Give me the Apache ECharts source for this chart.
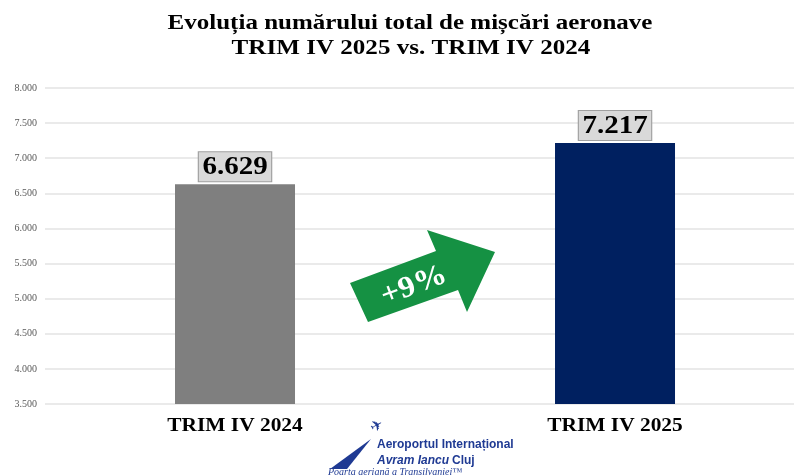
<!DOCTYPE html>
<html>
<head>
<meta charset="utf-8">
<script src="https://cdn.jsdelivr.net/npm/echarts@6/dist/echarts.min.js"></script>
<style>
  html, body { margin: 0; padding: 0; background: #ffffff; }
  #chart { width: 794px; height: 475px; }
</style>
</head>
<body>
<div id="chart"></div>
<script>
const categories = ['TRIM IV 2024', 'TRIM IV 2025'];
const movements = [6629, 7217];
const barColors = ['#7f7f7f', '#002060'];
const growthLabel = '+9%';
const yMin = 3500, yMax = 8000, yStep = 500;

const fmt = v => String(v).replace(/\B(?=(\d{3})+(?!\d))/g, '.');
const serif = '"Liberation Serif", "DejaVu Serif", serif';
const sans = '"Liberation Sans", Arial, sans-serif';
const logoBlue = '#1f3a93';

// points: x index + value
const points = movements.map((v, i) => [i, v]);

const chart = echarts.init(document.getElementById('chart'));
chart.setOption({
  backgroundColor: '#ffffff',
  animation: false,
  grid: { left: 45, top: 88, right: 0, bottom: 71 },
  xAxis: {
    type: 'value',
    min: -0.5,
    max: 1.471,
    show: false
  },
  yAxis: {
    type: 'value',
    min: yMin,
    max: yMax,
    interval: yStep,
    axisLine: { show: false },
    axisTick: { show: false },
    splitLine: { lineStyle: { color: '#e3e3e3', width: 1.5 } },
    axisLabel: { fontFamily: serif, fontSize: 10, color: '#595959', margin: 8, formatter: fmt }
  },
  series: [
    {
      type: 'bar',
      barWidth: 120,
      data: points.map((p, i) => ({ value: p, itemStyle: { color: barColors[i] } }))
    },
    {
      // value boxes above bars and category names under them
      type: 'custom',
      clip: false,
      z: 5,
      data: points,
      renderItem: (params, api) => {
        const idx = api.value(0);
        const val = api.value(1);
        const top = api.coord([idx, val]);
        const base = api.coord([idx, yMin]);
        return {
          type: 'group',
          children: [
            {
              type: 'text',
              x: top[0], y: top[1] - 3,
              scaleX: 1.16,
              style: {
                text: fmt(val),
                font: 'bold 25px ' + serif,
                fill: '#000',
                align: 'center',
                verticalAlign: 'bottom',
                lineHeight: 25,
                backgroundColor: '#d9d9d9',
                borderColor: '#a0a0a0',
                borderWidth: 1,
                padding: [3, 3, 1, 3]
              }
            },
            {
              type: 'text',
              x: base[0], y: base[1] + 13,
              scaleX: 1.125,
              style: {
                text: categories[idx],
                font: 'bold 19px ' + serif,
                fill: '#000',
                align: 'center',
                verticalAlign: 'top'
              }
            }
          ]
        };
      }
    }
  ],
  graphic: [
    {
      type: 'text', x: 410, y: 13, scaleX: 1.19, z: 100,
      style: { text: 'Evoluția numărului total de mișcări aeronave', font: 'bold 21px ' + serif, fill: '#000', align: 'center', verticalAlign: 'top' }
    },
    {
      type: 'text', x: 411, y: 37, scaleX: 1.14, z: 100,
      style: { text: 'TRIM IV 2025 vs. TRIM IV 2024', font: 'bold 22px ' + serif, fill: '#000', align: 'center', verticalAlign: 'top' }
    },
    {
      type: 'polygon', z: 100,
      shape: { points: [[350, 283], [436, 251], [427, 230], [495, 252], [467, 312], [458, 290], [368, 322]] },
      style: { fill: '#159143' }
    },
    {
      type: 'text', x: 414, y: 286, z: 101,
      rotation: 20.5 * Math.PI / 180,
      scaleX: 1.1,
      style: { text: growthLabel, fill: '#ffffff', font: 'bold 30px ' + serif, align: 'center', verticalAlign: 'middle' }
    },
    {
      type: 'polygon', z: 100,
      shape: { points: [[330, 469], [371, 439], [347, 469]] },
      style: { fill: logoBlue }
    },
    {
      type: 'text', x: 368, y: 423, z: 100,
      rotation: 0.5,
      style: { text: '✈', fill: logoBlue, font: '15px "DejaVu Sans"' }
    },
    {
      type: 'text', x: 377, y: 439, z: 100,
      style: { text: 'Aeroportul Internațional', fill: logoBlue, font: 'bold 12px ' + sans, verticalAlign: 'top' }
    },
    {
      type: 'text', x: 377, y: 455, z: 100,
      style: { text: 'Avram Iancu', fill: logoBlue, font: 'italic bold 12px ' + sans, verticalAlign: 'top' }
    },
    {
      type: 'text', x: 452, y: 455, z: 100,
      style: { text: 'Cluj', fill: logoBlue, font: 'bold 12px ' + sans, verticalAlign: 'top' }
    },
    {
      type: 'text', x: 328, y: 467, z: 100,
      style: { text: 'Poarta aeriană a Transilvaniei™', fill: logoBlue, font: 'italic 10px ' + serif, verticalAlign: 'top' }
    }
  ]
});
</script>
</body>
</html>
